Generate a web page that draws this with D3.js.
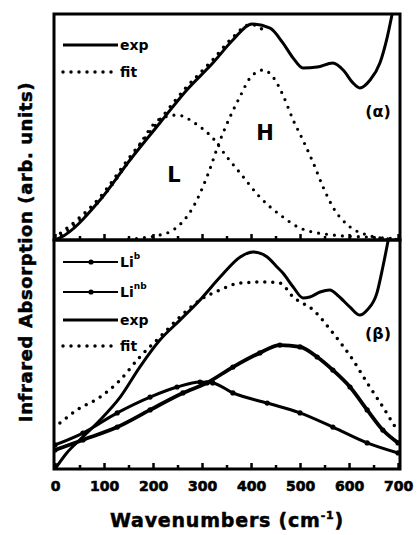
<!DOCTYPE html>
<html>
<head>
<meta charset="utf-8">
<script src="https://cdn.jsdelivr.net/npm/d3@7"></script>
<style>
  body { margin: 0; background: #fff; }
  text { font-family: "DejaVu Sans", "Liberation Sans", Arial, sans-serif; font-weight: bold; fill: #000; }
</style>
</head>
<body>
<div id="chart"></div>
<script>
// values: [wavenumber, absorption (0-100 per panel)]
var expA = [[0,0],[10,0.9],[92,17.7],[153,35.4],[214,51.8],[269,66.4],[322,78.3],[363,88.5],[402,95.6],
  [439,93.8],[465,87.2],[486,80.5],[506,76.1],[535,76.5],[567,78.3],[588,75.2],[608,69.5],[622,67.3],
  [643,70.8],[663,78.3],[678,89.8],[688,100]];
var fitA = [[0,0.5],[50,9],[92,18],[153,35.8],[214,52.2],[269,66.8],[322,78.8],[363,88.8],[402,95],[430,92]];
var peakL = [[0,0],[92,17.7],[153,35.4],[214,53.5],[249,55.3],[290,51],[322,45.1],[350,37],[378,29.6],
  [418,19],[465,10.2],[500,5.3],[567,2.2],[637,1.3],[700,0.5]];
var peakH = [[150,0.3],[180,1],[214,2.2],[241,4.4],[282,14.6],[310,27.9],[337,44.2],[357,54.4],[378,63.7],
  [398,71.7],[425,75.2],[445,72.1],[465,64.2],[486,53.1],[506,44.2],[527,34.1],[547,23.5],[567,14.6],
  [602,5.8],[637,2.2],[663,0.9],[700,0.3]];

var expB = [[0,0],[24,7],[57,14],[92,21.4],[133,31.4],[173,44.5],[214,56.3],[255,65],[296,73.8],[337,83.8],
  [378,92.6],[404,94.8],[433,92.6],[453,88.2],[465,85.6],[486,79.5],[506,74.7],[520,75.1],[541,77.3],
  [561,78.2],[576,76],[602,70.7],[622,67.2],[637,69.4],[657,76.9],[669,88.2],[680,100]];
var fitB = [[10,20.1],[45,25.8],[92,31.4],[133,38.9],[173,48.9],[214,57.6],[255,66.4],[296,73.8],[337,78.2],
  [378,81.2],[433,81.7],[459,81.2],[486,75.1],[527,69.4],[567,59.4],[608,47.6],[637,37.6],[669,27.1],[698,17]];
var liB = [[0,10.5],[57,15.7],[127,24.5],[194,31.4],[249,35.8],[296,38],[322,37.6],[363,33.2],[433,28.8],
  [500,24.5],[567,18.3],[637,11.4],[700,7]];
var liNB = [[0,8.3],[57,12.7],[127,18.3],[194,25.8],[261,33.2],[310,37.6],[363,44.5],[418,50.7],[459,54.1],
  [500,53.3],[535,48.9],[567,43.2],[602,35.8],[637,25.8],[669,17],[700,11.4]];

var xTicks = [0, 100, 200, 300, 400, 500, 600, 700];
var minorTicks = [50, 150, 250, 350, 450, 550, 650];

var width = 419, height = 535;
var svg = d3.select("#chart").append("svg")
  .attr("width", width).attr("height", height);

var x = d3.scaleLinear().domain([0, 704]).range([55, 400]);
var yTop = d3.scaleLinear().domain([0, 100]).range([240, 14]);
var yBot = d3.scaleLinear().domain([0, 100]).range([469, 240]);

function lineFor(y) {
  return d3.line()
    .x(function(d) { return x(d[0]); })
    .y(function(d) { return y(d[1]); })
    .curve(d3.curveMonotoneX);
}

svg.append("clipPath").attr("id", "clipT").append("rect")
  .attr("x", 55).attr("y", 14).attr("width", 345).attr("height", 226);
svg.append("clipPath").attr("id", "clipB").append("rect")
  .attr("x", 55).attr("y", 240).attr("width", 345).attr("height", 229);

var gT = svg.append("g").attr("clip-path", "url(#clipT)");
var gB = svg.append("g").attr("clip-path", "url(#clipB)");

function dotted(g, data, y, w) {
  g.append("path").datum(data).attr("d", lineFor(y))
    .attr("fill", "none").attr("stroke", "#000").attr("stroke-width", w)
    .attr("stroke-dasharray", "0 8").attr("stroke-linecap", "round");
}

// top panel (a)
dotted(gT, peakL, yTop, 3.2);
dotted(gT, peakH, yTop, 3.2);
gT.append("path").datum(expA).attr("d", lineFor(yTop))
  .attr("fill", "none").attr("stroke", "#000").attr("stroke-width", 3);
gT.append("g").attr("transform", "translate(-1,-1)").call(function(g) { dotted(g, fitA, yTop, 3.5); });

// bottom panel (b)
dotted(gB, fitB, yBot, 3.5);
gB.append("path").datum(expB).attr("d", lineFor(yBot))
  .attr("fill", "none").attr("stroke", "#000").attr("stroke-width", 3);
[liB, liNB].forEach(function(s, i) {
  gB.append("path").datum(s).attr("d", lineFor(yBot))
    .attr("fill", "none").attr("stroke", "#000").attr("stroke-width", i === 0 ? 3 : 3.8);
  gB.selectAll(null).data(s).enter().append("circle")
    .attr("cx", function(d) { return x(d[0]); })
    .attr("cy", function(d) { return yBot(d[1]); })
    .attr("r", 2.6).attr("fill", "#000");
});

// frames
[[14, 240], [240, 469]].forEach(function(r) {
  svg.append("rect").attr("x", x(0) - 1).attr("y", r[0])
    .attr("width", x(704) - x(0) + 1).attr("height", r[1] - r[0])
    .attr("fill", "none").attr("stroke", "#000").attr("stroke-width", 3);
});

// inward ticks on both panels' bottom edges
[240, 469].forEach(function(y0) {
  var axis = d3.axisTop(x).tickValues(xTicks.concat(minorTicks)).tickSizeInner(0).tickSizeOuter(0)
    .tickFormat("");
  var g = svg.append("g").attr("transform", "translate(0," + y0 + ")").call(axis);
  g.select(".domain").remove();
  g.selectAll(".tick line")
    .attr("y2", function(d) { return xTicks.indexOf(d) >= 0 ? -6 : -4; })
    .attr("stroke", "#000").attr("stroke-width", 2.5);
});

var xAxis = svg.append("g").attr("transform", "translate(0,469)")
  .call(d3.axisBottom(x).tickValues(xTicks).tickSize(0).tickPadding(12));
xAxis.select(".domain").remove();
xAxis.selectAll("text").style("font-size", "14px").style("font-family", "'DejaVu Sans', Arial")
  .style("font-weight", "bold").attr("dy", "0.71em")
  .attr("stroke", "#000").attr("stroke-width", 0.6);

svg.append("text").attr("x", 227).attr("y", 527).attr("text-anchor", "middle")
  .style("font-size", "19px").style("letter-spacing", "0.8px").attr("stroke", "#000").attr("stroke-width", 0.5)
  .html("Wavenumbers (cm<tspan dy='-8' font-size='11'>-1</tspan><tspan dy='8'>)</tspan>");

svg.append("text").attr("transform", "translate(32,252) rotate(-90)").attr("text-anchor", "middle")
  .style("font-size", "18px").style("letter-spacing", "0.6px").attr("stroke", "#000").attr("stroke-width", 0.5)
  .text("Infrared Absorption (arb. units)");

// legends
function legendRow(y0, label, sup, kind) {
  var l = svg.append("line").attr("x1", 63).attr("x2", 118).attr("y1", y0).attr("y2", y0)
    .attr("stroke", "#000");
  if (kind === "dot") l.attr("stroke-width", 3.5).attr("stroke-dasharray", "0 8").attr("stroke-linecap", "round");
  else l.attr("stroke-width", kind === "solid" ? 3 : 2);
  if (kind === "marker") {
    svg.append("circle").attr("cx", 91).attr("cy", y0).attr("r", 2.6).attr("fill", "#000");
  }
  var t = svg.append("text").attr("x", 120).attr("y", y0 + 5).style("font-size", "14px").text(label);
  if (sup) t.append("tspan").attr("dy", -8).style("font-size", "9px").text(sup);
}
legendRow(45, "exp", null, "solid");
legendRow(72, "fit", null, "dot");
legendRow(262, "Li", "b", "marker");
legendRow(292, "Li", "nb", "marker");
legendRow(320, "exp", null, "solid");
legendRow(346, "fit", null, "dot");

svg.append("text").attr("x", 174).attr("y", 182).attr("text-anchor", "middle").style("font-size", "21px").text("L");
svg.append("text").attr("x", 265).attr("y", 140).attr("text-anchor", "middle").style("font-size", "21px").text("H");
svg.append("text").attr("x", 378).attr("y", 117).attr("text-anchor", "middle").style("font-size", "16px").text("(\u03b1)");
svg.append("text").attr("x", 378).attr("y", 339).attr("text-anchor", "middle").style("font-size", "16px").text("(\u03b2)");
</script>
</body>
</html>
